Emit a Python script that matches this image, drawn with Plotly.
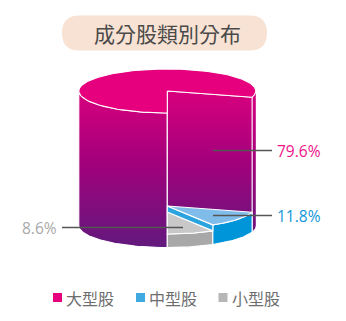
import numpy as np
import plotly.graph_objects as go

# ---- data ----
title = "成分股類別分布"
categories = ["大型股", "中型股", "小型股"]
shares = [79.6, 11.8, 8.6]
value_labels = ["79.6%", "11.8%", "8.6%"]

# ---- styling / geometry ----
CX, RX, RY = 167.3, 88.5, 22.0
Y_TOP, Y_MID, Y_LOW, Y_BOT = 91.0, 206.0, 212.0, 225.6
PINK, BLUE_SIDE, BLUE_TOP, BLUE_WALL = "#E6007E", "#0095D9", "#80BCE9", "#2BA3DF"
GRAY_SIDE, GRAY_TOP = "#A9A8A8", "#C9C8C8"
LEGEND_COLORS = ["#E6007E", "#3FA9E0", "#B7B6B6"]
LABEL_COLORS = ["#F0128A", "#1296D8", "#A9A9A9"]
FONT_CJK = "Noto Sans CJK TC"
GRAD = dict(type="vertical", start=72, stop=250,
            colorscale=[[0, "#E6007E"], [0.5, "#A4007C"], [1, "#5F1A7D"]])

# slice boundaries, degrees clockwise from 6 o'clock going towards 3 o'clock
a0 = 90.0
a1 = a0 - shares[1] * 3.6 - shares[2] * 3.6   # right end of the blue slice
a2 = a0 - shares[2] * 3.6                     # blue / gray boundary


def rim(t0, t1, yc, n=60):
    t = np.radians(np.linspace(t0, t1, n))
    return CX + RX * np.cos(t), yc + RY * np.sin(t)


def side(t0, t1, ytop, ybot):
    xa, ya = rim(t0, t1, ytop)
    xb, yb = rim(t1, t0, ybot)
    return np.r_[xa, xb, xa[0]], np.r_[ya, yb, ya[0]]


def sector(t0, t1, yc):
    xa, ya = rim(t0, t1, yc, 160)
    return np.r_[CX, xa, CX], np.r_[yc, ya, yc]


def poly(x, y, color=None, grad=None, lw=1.1):
    kw = dict(fillgradient=grad) if grad else dict(fillcolor=color)
    fig.add_trace(go.Scatter(x=x, y=y, mode="lines", fill="toself", showlegend=False,
                             hoverinfo="skip", line=dict(color="white", width=lw), **kw))


fig = go.Figure()

# big slice
x, y = side(90, 180, Y_TOP, Y_BOT); poly(x, y, grad=GRAD)
x, y = side(0, a1, Y_TOP, Y_BOT); poly(x, y, grad=GRAD, lw=0)
rx1, ry1 = rim(a1, a1, Y_TOP, 1)
rx2, ry2 = rim(a1, a1, Y_BOT, 1)
poly([CX, rx1[0], rx2[0], CX, CX], [Y_TOP, ry1[0], ry2[0], Y_BOT, Y_TOP], grad=GRAD)
x, y = sector(a0, a1 + 360, Y_TOP); poly(x, y, color=PINK)

# small slice
x, y = side(a2, a0, Y_LOW, Y_BOT); poly(x, y, color=GRAY_SIDE)
x, y = sector(a2, a0, Y_LOW); poly(x, y, color=GRAY_TOP)

# mid slice
x, y = side(a1, a2, Y_MID, Y_BOT); poly(x, y, color=BLUE_SIDE)
rx3, ry3 = rim(a2, a2, Y_MID, 1)
drop = Y_LOW - Y_MID
poly([CX, rx3[0], rx3[0], CX, CX], [Y_MID, ry3[0], ry3[0] + drop, Y_LOW, Y_MID], color=BLUE_WALL)
x, y = sector(a1, a2, Y_MID); poly(x, y, color=BLUE_TOP)

# leader lines
leaders = [([213, 272], [150.5, 150.5]), ([213, 272], [215.5, 215.5]), ([62, 183], [227.5, 227.5])]
for lx, ly in leaders:
    fig.add_trace(go.Scatter(x=lx, y=ly, mode="lines", showlegend=False, hoverinfo="skip",
                             line=dict(color="#555555", width=1.4)))

# value labels
label_x = [298.5, 298.5, 39]
label_y = [150.5, 216, 228]
for i, t in enumerate(value_labels):
    fig.add_annotation(x=label_x[i], y=label_y[i], text=t, showarrow=False, xanchor="center",
                       yanchor="middle", font=dict(family="Open Sans", size=15.5, color=LABEL_COLORS[i]))

# legend
legend_x = [57.5, 140.5, 223]
fig.add_trace(go.Scatter(x=legend_x, y=[297.5] * 3, mode="markers", showlegend=False, hoverinfo="skip",
                         marker=dict(symbol="square", size=9, color=LEGEND_COLORS)))
for lx, c in zip(legend_x, categories):
    fig.add_annotation(x=lx + 9.5, y=298, text=c, showarrow=False, xanchor="left", yanchor="middle",
                       xshift=-3, font=dict(family=FONT_CJK, size=16, color="#6E6E6E"))

# title pill
L, R, T, B, r = 62, 267, 15.5, 50.5, 17.5
fig.add_shape(type="path", layer="below", line_width=0, fillcolor="#F8E2D3",
              path=f"M{L+r},{T} L{R-r},{T} Q{R},{T} {R},{T+r} Q{R},{B} {R-r},{B} "
                   f"L{L+r},{B} Q{L},{B} {L},{T+r} Q{L},{T} {L+r},{T} Z")
fig.add_annotation(x=167, y=33, text=title, showarrow=False, xanchor="center", yanchor="middle",
                   font=dict(family=FONT_CJK, size=21, color="#4A4A4A"))

fig.update_layout(width=346, height=321, margin=dict(l=0, r=0, t=0, b=0), showlegend=False,
                  paper_bgcolor="white", plot_bgcolor="white",
                  xaxis=dict(range=[0, 346], visible=False, fixedrange=True),
                  yaxis=dict(range=[321, 0], visible=False, fixedrange=True))
fig.write_html("out.html", config=dict(displayModeBar=False),
               post_script="document.body.style.margin='0';document.body.style.overflow='hidden';")
